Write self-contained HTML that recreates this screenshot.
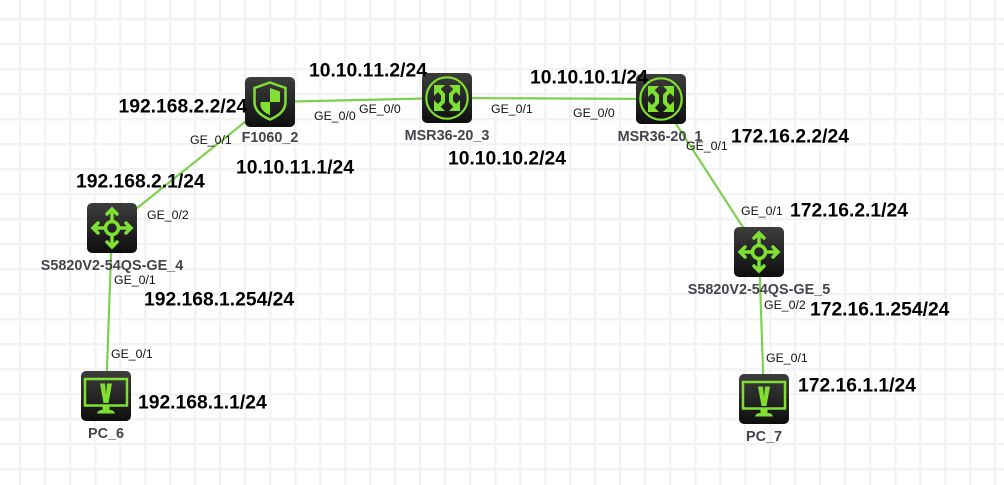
<!DOCTYPE html>
<html>
<head>
<meta charset="utf-8">
<style>
html,body{margin:0;padding:0;background:#fff;width:1004px;height:485px;overflow:hidden}
svg{display:block}
text{font-family:"Liberation Sans",sans-serif;font-kerning:none}
.ip{font-size:19.3px;font-weight:bold;fill:#000}
.port{font-size:12.3px;fill:#111}
.name{font-size:14.4px;font-weight:bold;fill:#44444c;text-anchor:middle}
.g{fill:none;stroke:#7fe032;stroke-width:3.500}
.f{fill:#7fe032}
</style>
</head>
<body>
<svg width="1004" height="485" viewBox="0 0 1004 485" xmlns="http://www.w3.org/2000/svg">
<defs>
<pattern id="grid" x="0" y="0" width="25" height="25" patternUnits="userSpaceOnUse">
<rect x="19" y="0" width="2.500" height="25" fill="#f3f3f3"/>
<rect x="0" y="18" width="25" height="2.500" fill="#f3f3f3"/>
</pattern>
<linearGradient id="bg" x1="0" y1="0" x2="0" y2="1">
<stop offset="0" stop-color="#3d3d3d"/><stop offset="1" stop-color="#0e0e0e"/>
</linearGradient>
<g id="switch">
<rect width="50" height="50" rx="5" fill="url(#bg)"/>
<circle cx="25" cy="25" r="6.500" class="g"/>
<path class="g" d="M25 18.500V7M25 31.500V43M18.500 25H7M31.500 25H43"/>
<path class="g" stroke-linecap="round" d="M20 11l5-5 5 5M20 39l5 5 5-5M11 20l-5 5 5 5M39 20l5 5-5 5"/>
</g>
<g id="router">
<rect width="50" height="50" rx="5" fill="url(#bg)"/>
<circle cx="25" cy="25" r="20.700" fill="none" stroke="#7fe032" stroke-width="2.200"/>
<path fill="none" stroke="#7fe032" stroke-width="4" d="M14 14l7 7.500v7L14 36M36 14l-7 7.500v7L36 36"/>
<path class="f" d="M12 12h11L12 23zM38 12H27L38 23zM12 38h11L12 27zM38 38H27L38 27z"/>
</g>
<g id="pc">
<rect width="50" height="50" rx="5" fill="url(#bg)"/>
<rect x="4" y="8" width="42" height="26.500" fill="none" stroke="#7fe032" stroke-width="2.500"/>
<path class="f" d="M19 12.500h5l1 11 1-11h5l-3.500 19.500h-5zM21.500 35.500h7v3.500h-7zM16 42.500q1-3.500 5-3.500h8q4 0 5 3.500z"/>
</g>
</defs>

<rect width="1004" height="485" fill="#fff"/>
<rect width="1004" height="485" fill="url(#grid)"/>

<g stroke="#7ed04f" stroke-width="2.200" fill="none">
<path d="M270 102L112 228"/>
<path d="M270 102L447 98"/>
<path d="M447 98L660 99"/>
<path d="M660 99L759 252"/>
<path d="M112 228L106 396"/>
<path d="M759 252L764 399"/>
</g>

<use href="#switch" x="87" y="203"/>
<use href="#switch" x="734" y="227"/>
<use href="#router" x="422" y="73"/>
<use href="#router" x="636" y="74"/>
<use href="#pc" x="81" y="371"/>
<use href="#pc" x="739" y="374"/>

<g>
<rect x="245" y="77" width="50" height="50" rx="5" fill="url(#bg)"/>
<path d="M270 82.500l15.500 5.500v14q0 11-15.500 17.500q-15.500-6.500-15.500-17.500V88z" fill="none" stroke="#7fe032" stroke-width="2.500"/>
<path class="f" d="M270 88l10 3.500V102h-10zM260.500 102H270v13q-8-3-9.500-9z"/>
</g>

<g>
<text class="name" x="270" y="142">F1060_2</text>
<text class="name" x="447" y="140">MSR36-20_3</text>
<text class="name" x="660" y="141">MSR36-20_1</text>
<text class="name" x="112" y="270">S5820V2-54QS-GE_4</text>
<text class="name" x="759" y="294">S5820V2-54QS-GE_5</text>
<text class="name" x="106" y="438">PC_6</text>
<text class="name" x="764" y="441">PC_7</text>
</g>

<g>
<text class="port" x="190" y="144">GE_0/1</text>
<text class="port" x="314" y="120">GE_0/0</text>
<text class="port" x="359" y="113">GE_0/0</text>
<text class="port" x="491" y="113">GE_0/1</text>
<text class="port" x="573" y="117">GE_0/0</text>
<text class="port" x="686" y="150">GE_0/1</text>
<text class="port" x="147" y="219">GE_0/2</text>
<text class="port" x="114" y="284">GE_0/1</text>
<text class="port" x="111" y="358">GE_0/1</text>
<text class="port" x="741" y="215">GE_0/1</text>
<text class="port" x="764" y="309">GE_0/2</text>
<text class="port" x="766" y="362">GE_0/1</text>
</g>

<g>
<text class="ip" x="309" y="76.500">10.10.11.2/24</text>
<text class="ip" x="530" y="83.500">10.10.10.1/24</text>
<text class="ip" x="118.500" y="112.500">192.168.2.2/24</text>
<text class="ip" x="731" y="142.500">172.16.2.2/24</text>
<text class="ip" x="448" y="164.500">10.10.10.2/24</text>
<text class="ip" x="236" y="173.500">10.10.11.1/24</text>
<text class="ip" x="76" y="187.500">192.168.2.1/24</text>
<text class="ip" x="790" y="216.500">172.16.2.1/24</text>
<text class="ip" x="144" y="305.500">192.168.1.254/24</text>
<text class="ip" x="810" y="315.500">172.16.1.254/24</text>
<text class="ip" x="798" y="391.500">172.16.1.1/24</text>
<text class="ip" x="138" y="408.500">192.168.1.1/24</text>
</g>
</svg>
</body>
</html>
